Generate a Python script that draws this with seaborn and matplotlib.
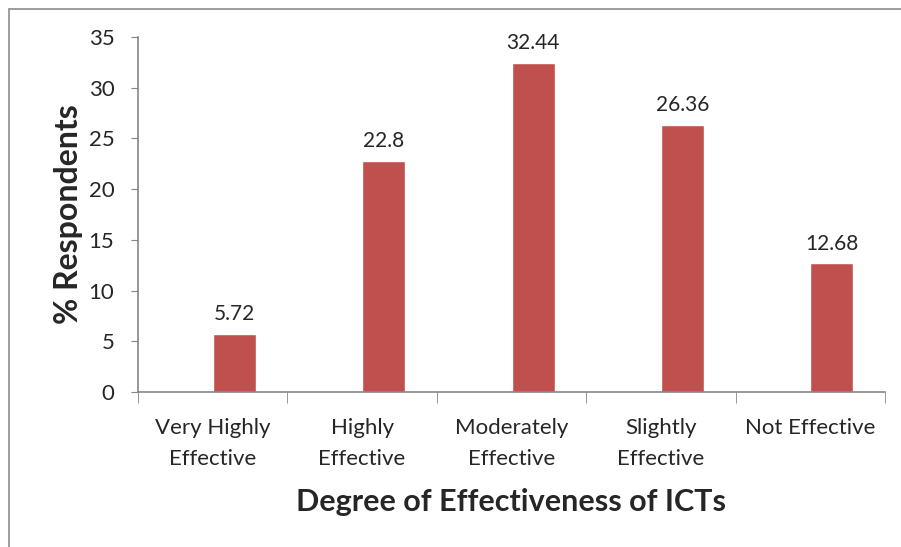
import numpy as np
import pandas as pd
import matplotlib.pyplot as plt
import matplotlib.patches as mpatches
import seaborn as sns

# -----------------------------
# Data
# -----------------------------
categories = ["Very Highly\nEffective", "Highly\nEffective", "Moderately\nEffective",
              "Slightly\nEffective", "Not Effective"]
respondents = [5.72, 22.8, 32.44, 26.36, 12.68]
value_labels = ["5.72", "22.8", "32.44", "26.36", "12.68"]
y_ticks = [0, 5, 10, 15, 20, 25, 30, 35]

# Excel-style layout: an empty first series, so the bar sits right of centre
df = pd.DataFrame({
    "category": categories * 2,
    "value": [np.nan] * len(categories) + respondents,
    "series": ["blank"] * len(categories) + ["data"] * len(categories),
})

sns.set_style("white")
plt.rcParams['font.family'] = ['Lato', 'DejaVu Sans']

fig = plt.figure(figsize=(9.01, 5.47), dpi=100)
ax = fig.add_axes([138 / 901, 1 - 392 / 547, (885 - 138) / 901, (392 - 37) / 547])

sns.barplot(data=df, x="category", y="value", hue="series",
            hue_order=["blank", "data"], order=categories,
            palette={"blank": "#C0504D", "data": "#C0504D"}, saturation=1,
            width=0.576, dodge=True, legend=False, ax=ax, errorbar=None)

# value labels
data_bars = ax.containers[-1]
ax.bar_label(data_bars, labels=value_labels, padding=7, fontsize=15)

ax.set_ylim(0, 35)
ax.set_xlim(-0.5, len(categories) - 0.5)
ax.set_yticks(y_ticks)
ax.tick_params(axis='y', labelsize=16, length=5, color='#868686', direction='out',
               left=True, pad=12)
ax.tick_params(axis='x', labelsize=16, length=0, pad=19)
ax.set_xticks(np.arange(-0.5, len(categories)), minor=True)
ax.tick_params(axis='x', which='minor', length=8, color='#868686', bottom=True, direction='out')
for lbl in ax.get_xticklabels():
    lbl.set_linespacing(1.66)

for side in ['top', 'right']:
    ax.spines[side].set_visible(False)
for side in ['left', 'bottom']:
    ax.spines[side].set_color('#868686')
    ax.spines[side].set_linewidth(1.2)

ax.set_ylabel("% Respondents", fontsize=23, fontweight='bold', labelpad=4)
ax.set_xlabel("Degree of Effectiveness of ICTs", fontsize=22, fontweight='bold', labelpad=14)

# chart frame (Excel chart area border)
frame = mpatches.Rectangle((9 / 901, -0.2), 1.2, 1 - 9 / 547 + 0.2, transform=fig.transFigure,
                           fill=False, edgecolor='#8C8C8C', linewidth=1.2)
fig.patches.append(frame)

plt.savefig("out.png", dpi=100)
